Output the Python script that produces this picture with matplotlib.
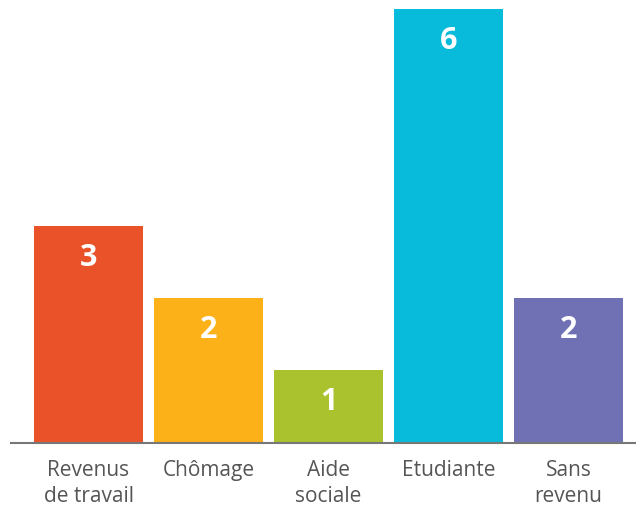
import matplotlib
matplotlib.use("Agg")
import matplotlib.pyplot as plt

categories = ["Revenus\nde travail", "Chômage", "Aide\nsociale", "Etudiante", "Sans\nrevenu"]
values = [3, 2, 1, 6, 2]
colors = ["#EA532A", "#FBB117", "#A9C22D", "#08BBDB", "#6F71B4"]

plt.rcParams["font.family"] = ["Open Sans", "DejaVu Sans"]

fig = plt.figure(figsize=(6.36, 5.06), dpi=100)
ax = fig.add_axes([11 / 636, 62.5 / 506, 625 / 636, 433.5 / 506])

x = list(range(len(values)))
ax.bar(x, values, width=109 / 120, color=colors)
ax.set_xlim(-77.5 / 120, (636 - 88.5) / 120)
ax.set_ylim(0, 6)

for xi, v in zip(x, values):
    ax.annotate(str(v), (xi, v), xytext=(0, -22.5), textcoords="offset points",
                ha="center", va="center", color="white", fontsize=22, fontweight="bold")

ax.set_xticks(x)
ax.set_xticklabels(categories, fontsize=15, color="#555555", linespacing=1.28)
ax.tick_params(axis="x", length=0, pad=12)
ax.set_yticks([])
for s in ["top", "right", "left"]:
    ax.spines[s].set_visible(False)
ax.spines["bottom"].set_color("#777777")
ax.spines["bottom"].set_linewidth(1.5)

fig.savefig("out.png", dpi=100)
